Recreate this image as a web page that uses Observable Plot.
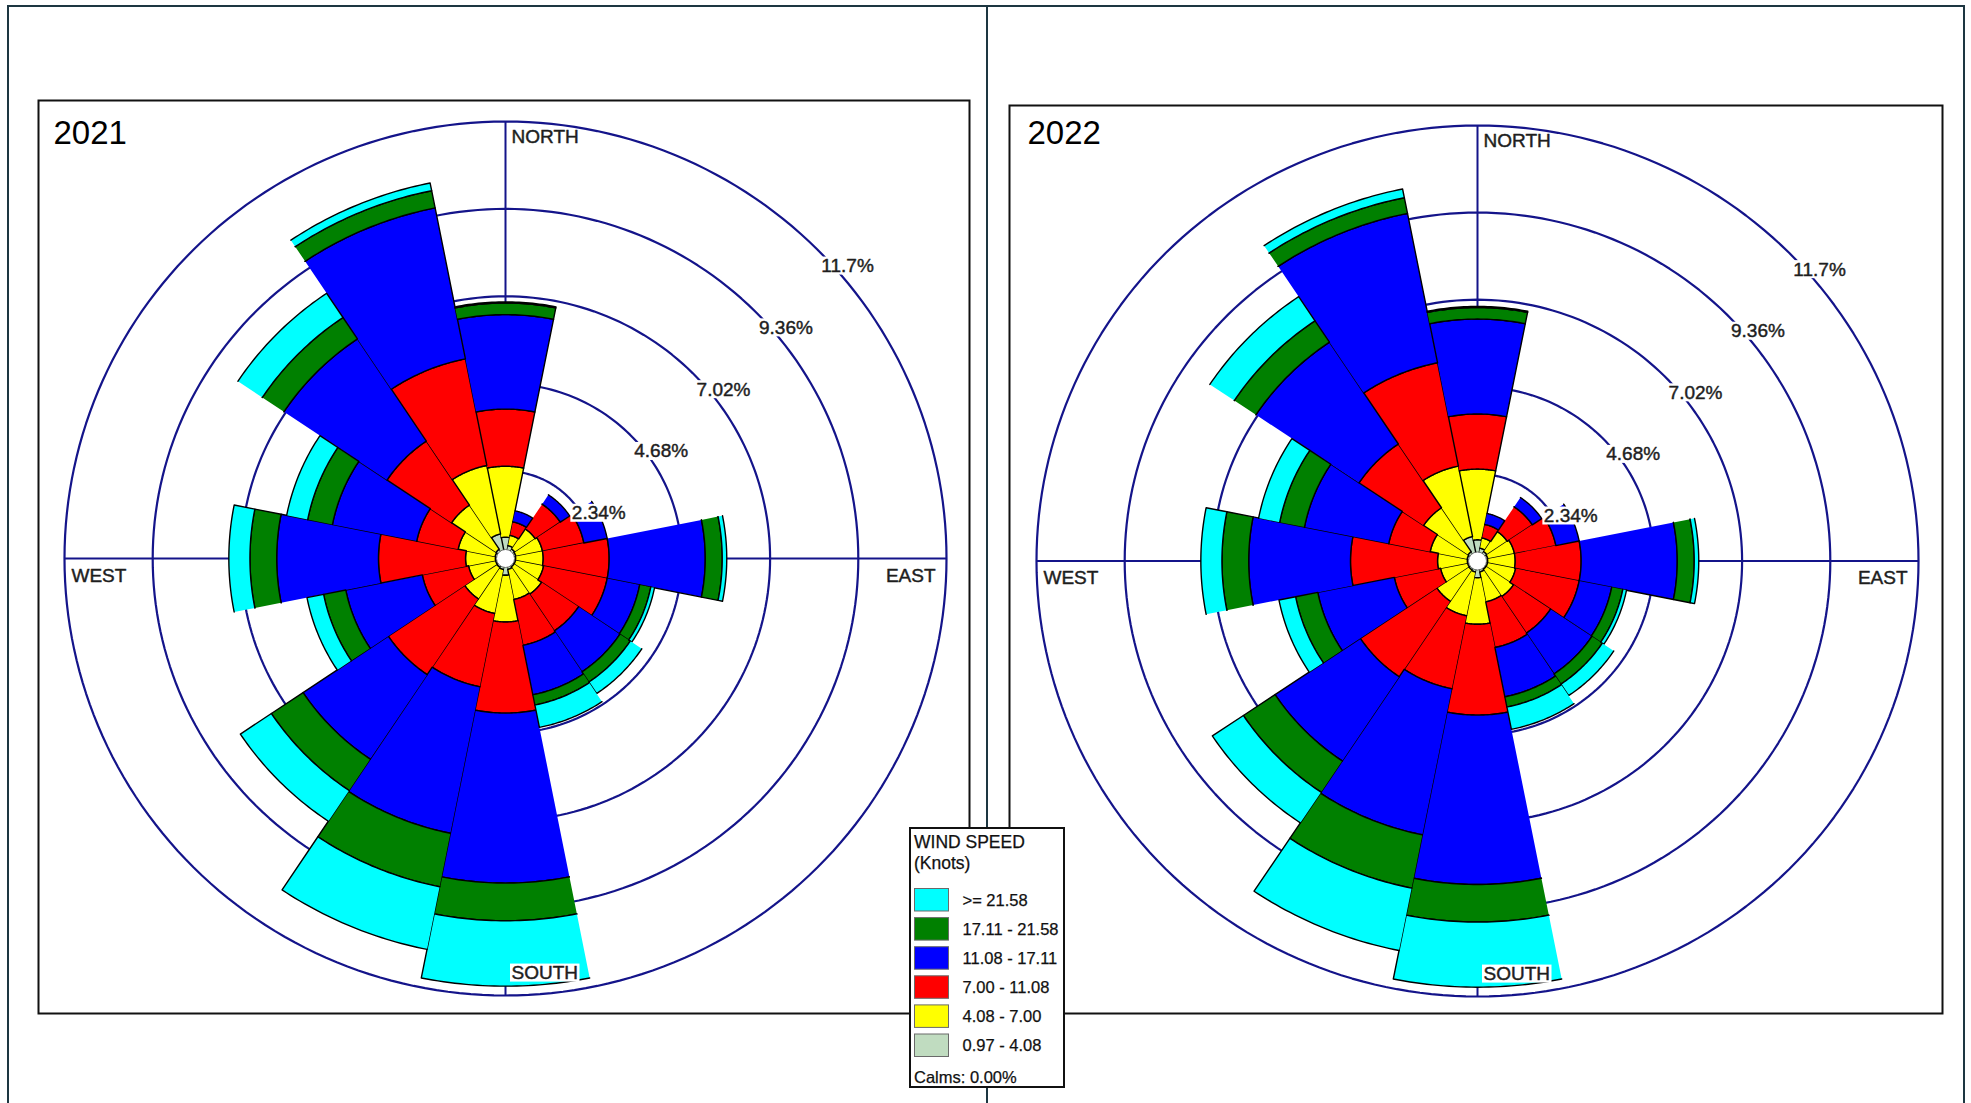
<!DOCTYPE html>
<html>
<head>
<meta charset="utf-8">
<script src="https://cdn.jsdelivr.net/npm/d3@7"></script>
<script src="https://cdn.jsdelivr.net/npm/@observablehq/plot@0.6"></script>
<style>
  html, body { margin: 0; padding: 0; background: #fff; }
  body { width: 1971px; height: 1103px; overflow: hidden; position: relative; font-family: "Liberation Sans", Arial, sans-serif; }
  #outer { position: absolute; left: 7px; top: 5px; width: 1958px; height: 1200px; border: 2.5px solid #1d3641; box-sizing: border-box; }
  #divider { position: absolute; left: 985.5px; top: 5px; width: 2.5px; height: 1200px; background: #1d3641; }
  .panel { position: absolute; }
  #legend { position: absolute; left: 908px; top: 826px; }
</style>
</head>
<body>
<div id="outer"></div>
<div id="divider"></div>
<div id="p2021" class="panel" style="left:37px; top:99px;"></div>
<div id="p2022" class="panel" style="left:1008px; top:104px;"></div>
<div id="legend"></div>
<script>
// ---------------- data ----------------
const directions = ["N","NNE","NE","ENE","E","ESE","SE","SSE","S","SSW","SW","WSW","W","WNW","NW","NNW"];
const speedBins = ["0.97 - 4.08", "4.08 - 7.00", "7.00 - 11.08", "11.08 - 17.11", "17.11 - 21.58", ">= 21.58"];
const binColors = ["#c0dcc0", "#ffff00", "#ff0000", "#0000ff", "#008000", "#00ffff"];
const ringValues = [2.34, 4.68, 7.02, 9.36, 11.7];
const ringLabels = ["2.34%", "4.68%", "7.02%", "9.36%", "11.7%"];
const compassLabels = ["NORTH", "EAST", "SOUTH", "WEST"];
const calmsPct = 0.0;

// frequency (%) per direction, per speed class — 2021
const f2021_s1 = [0.57,0.35,0.30,0.28,0.27,0.27,0.27,0.30,0.45,0.30,0.28,0.27,0.27,0.28,0.30,0.67];
const f2021_s2 = [1.90,0.28,0.65,0.72,0.73,0.76,0.88,0.82,1.25,1.20,1.02,0.73,0.79,1.00,1.42,1.87];
const f2021_s3 = [1.53,0.37,0.80,1.12,1.75,1.72,1.18,1.25,2.44,2.00,2.44,1.25,2.31,1.12,2.06,2.91];
const f2021_s4 = [2.53,0.30,0.30,0.63,2.55,0.88,1.32,1.35,4.55,4.00,2.72,2.07,2.70,2.28,3.29,4.12];
const f2021_s5 = [0.31,0.00,0.00,0.00,0.45,0.30,0.33,0.28,1.01,1.46,1.01,0.60,0.71,0.67,0.69,0.47];
const f2021_s6 = [0.03,0.00,0.00,0.00,0.12,0.10,0.37,0.61,1.75,1.71,0.99,0.45,0.56,0.57,0.78,0.21];

// frequency (%) per direction, per speed class — 2022
const f2022_s1 = [0.57,0.35,0.30,0.28,0.27,0.27,0.27,0.30,0.45,0.30,0.28,0.27,0.27,0.28,0.30,0.67];
const f2022_s2 = [1.90,0.28,0.65,0.72,0.73,0.76,0.88,0.82,1.25,1.20,1.02,0.73,0.79,1.00,1.42,1.93];
const f2022_s3 = [1.48,0.37,0.80,1.12,1.75,1.72,1.18,1.25,2.44,2.00,2.44,1.25,2.31,1.12,2.06,2.83];
const f2022_s4 = [2.55,0.30,0.30,0.63,2.55,0.88,1.32,1.35,4.55,4.00,2.72,2.07,2.70,2.28,3.29,4.09];
const f2022_s5 = [0.31,0.00,0.00,0.00,0.45,0.30,0.33,0.28,1.01,1.46,1.01,0.60,0.71,0.67,0.69,0.43];
const f2022_s6 = [0.03,0.00,0.00,0.00,0.12,0.10,0.37,0.61,1.75,1.71,0.99,0.45,0.56,0.57,0.78,0.24];

// ---------------- drawing ----------------
const ringColor = "#14148a";
const ringMax = ringValues[ringValues.length - 1];
const halfWidth = 180 / directions.length; // degrees on each side of a wedge centre
const rad = Math.PI / 180;

function sectorPoints(id, r0, r1, bearing) {
  const pts = [];
  const a0 = (bearing - halfWidth) * rad, a1 = (bearing + halfWidth) * rad, n = 30;
  for (let j = 0; j <= n; j++) { const a = a0 + (a1 - a0) * j / n; pts.push({id, x: r1 * Math.sin(a), y: r1 * Math.cos(a)}); }
  for (let j = n; j >= 0; j--) { const a = a0 + (a1 - a0) * j / n; pts.push({id, x: r0 * Math.sin(a), y: r0 * Math.cos(a)}); }
  return pts;
}

function addTextBackground(svg, labels) {
  const ns = "http://www.w3.org/2000/svg";
  svg.querySelectorAll("text").forEach(t => {
    if (!labels.includes(t.textContent)) return;
    const b = t.getBBox();
    const r = document.createElementNS(ns, "rect");
    r.setAttribute("x", b.x - 1.5);
    r.setAttribute("y", b.y + 1.5);
    r.setAttribute("width", b.width + 3);
    r.setAttribute("height", b.height - 3);
    r.setAttribute("fill", "#fff");
    r.setAttribute("stroke", "none");
    if (t.getAttribute("transform")) r.setAttribute("transform", t.getAttribute("transform"));
    t.parentNode.insertBefore(r, t);
  });
}

function drawRose(el, yearLabel, bins, g) {
  const xDom = [-g.cx / g.kx, (g.width - g.cx) / g.kx];
  const yDom = [-(g.height - g.cy) / g.ky, g.cy / g.ky];
  const marks = [];

  // rings
  const ringPts = [];
  ringValues.forEach((rv, j) => {
    for (let d = 0; d <= 360; d += 1.5) ringPts.push({ring: j, x: rv * Math.sin(d * rad), y: rv * Math.cos(d * rad)});
  });
  marks.push(Plot.line(ringPts, {x: "x", y: "y", z: "ring", stroke: ringColor, strokeWidth: 2.2}));
  marks.push(Plot.ruleX([0], {y1: -ringMax, y2: ringMax, stroke: ringColor, strokeWidth: 2}));
  marks.push(Plot.ruleY([0], {x1: -ringMax, x2: ringMax, stroke: ringColor, strokeWidth: 2}));

  // stacked wedges
  const cum = directions.map(() => 0);
  bins.forEach((vals, k) => {
    const pts = [];
    directions.forEach((dname, i) => {
      const r0 = cum[i], r1 = cum[i] + vals[i];
      cum[i] = r1;
      if (vals[i] > 0.001) pts.push(...sectorPoints(dname, r0, r1, i * 360 / directions.length));
    });
    marks.push(Plot.line(pts, {x: "x", y: "y", z: "id", fill: binColors[k], stroke: "#000", strokeWidth: 1.4, strokeLinejoin: "round"}));
  });

  // calm circle
  marks.push(Plot.dot([calmsPct], {x: () => 0, y: () => 0, r: 9, fill: "#fff", stroke: "#555", strokeWidth: 0.8}));

  const txt = {fontSize: 19, fill: "#1e1e1e", stroke: "#1e1e1e", strokeWidth: 0.45};
  // ring labels
  marks.push(Plot.text(ringValues, {
    ...txt, x: d => d * Math.SQRT1_2, y: d => d * Math.SQRT1_2, text: (d, i) => ringLabels[i],
    textAnchor: "start", dx: 4, dy: 16.5
  }));

  // compass labels
  const lab = {...txt, text: d => d};
  marks.push(Plot.text([compassLabels[0]], {...lab, x: () => 0, y: () => ringMax, textAnchor: "start", dx: 6, dy: 15}));
  marks.push(Plot.text([compassLabels[1]], {...lab, x: () => ringMax, y: () => 0, textAnchor: "end", dx: -11, dy: 17}));
  marks.push(Plot.text([compassLabels[2]], {...lab, x: () => 0, y: () => -ringMax, textAnchor: "start", dx: 6, dy: -22.5}));
  marks.push(Plot.text([compassLabels[3]], {...lab, x: () => -ringMax, y: () => 0, textAnchor: "start", dx: 7, dy: 17}));

  // year title
  marks.push(Plot.text([yearLabel], {frameAnchor: "top-left", text: d => d, textAnchor: "start", lineAnchor: "top", dx: g.tdx, dy: g.tdy, fontSize: 33, fill: "#000"}));

  // frame
  marks.push(Plot.frame({stroke: "#111", strokeWidth: 2, inset: 1}));

  const svg = Plot.plot({
    width: g.width, height: g.height, margin: 0,
    x: {domain: xDom, axis: null},
    y: {domain: yDom, axis: null},
    style: {fontFamily: '"Liberation Sans", Arial, sans-serif', background: "#fff", overflow: "visible"},
    marks
  });
  el.appendChild(svg);
  addTextBackground(svg, [...ringLabels, compassLabels[2]]);
}

drawRose(document.getElementById("p2021"), "2021",
  [f2021_s1, f2021_s2, f2021_s3, f2021_s4, f2021_s5, f2021_s6],
  {width: 933, height: 915, cx: 468, cy: 459, kx: 441 / 11.7, ky: 437 / 11.7, tdx: 16, tdy: 21});

drawRose(document.getElementById("p2022"), "2022",
  [f2022_s1, f2022_s2, f2022_s3, f2022_s4, f2022_s5, f2022_s6],
  {width: 935, height: 910, cx: 469, cy: 456.5, kx: 441 / 11.7, ky: 435.5 / 11.7, tdx: 19, tdy: 16});

// ---------------- legend ----------------
(function legend() {
  const W = 158, H = 263;
  const svg = d3.select("#legend").append("svg").attr("width", W).attr("height", H)
    .style("font-family", '"Liberation Sans", Arial, sans-serif');
  svg.append("rect").attr("x", 2).attr("y", 2).attr("width", W - 4).attr("height", H - 4)
    .attr("fill", "#fff").attr("stroke", "#111").attr("stroke-width", 2);
  const t = sel => sel.attr("fill", "#111").attr("stroke", "#111").attr("stroke-width", 0.25);
  t(svg.append("text").attr("x", 6).attr("y", 21.5).attr("font-size", 17.5).text("WIND SPEED"));
  t(svg.append("text").attr("x", 6).attr("y", 43).attr("font-size", 17.5).text("(Knots)"));
  const order = d3.range(speedBins.length).reverse();
  order.forEach((k, j) => {
    const y = 62.5 + j * 29.1;
    svg.append("rect").attr("x", 6.5).attr("y", y).attr("width", 34).attr("height", 22.5)
      .attr("fill", binColors[k]).attr("stroke", "#6a6a6a").attr("stroke-width", 1);
    t(svg.append("text").attr("x", 54.5).attr("y", y + 17.3).attr("font-size", 16.5).text(speedBins[k]));
  });
  t(svg.append("text").attr("x", 6).attr("y", 257).attr("font-size", 16.5)
    .text(`Calms: ${calmsPct.toFixed(2)}%`));
})();
</script>
</body>
</html>
